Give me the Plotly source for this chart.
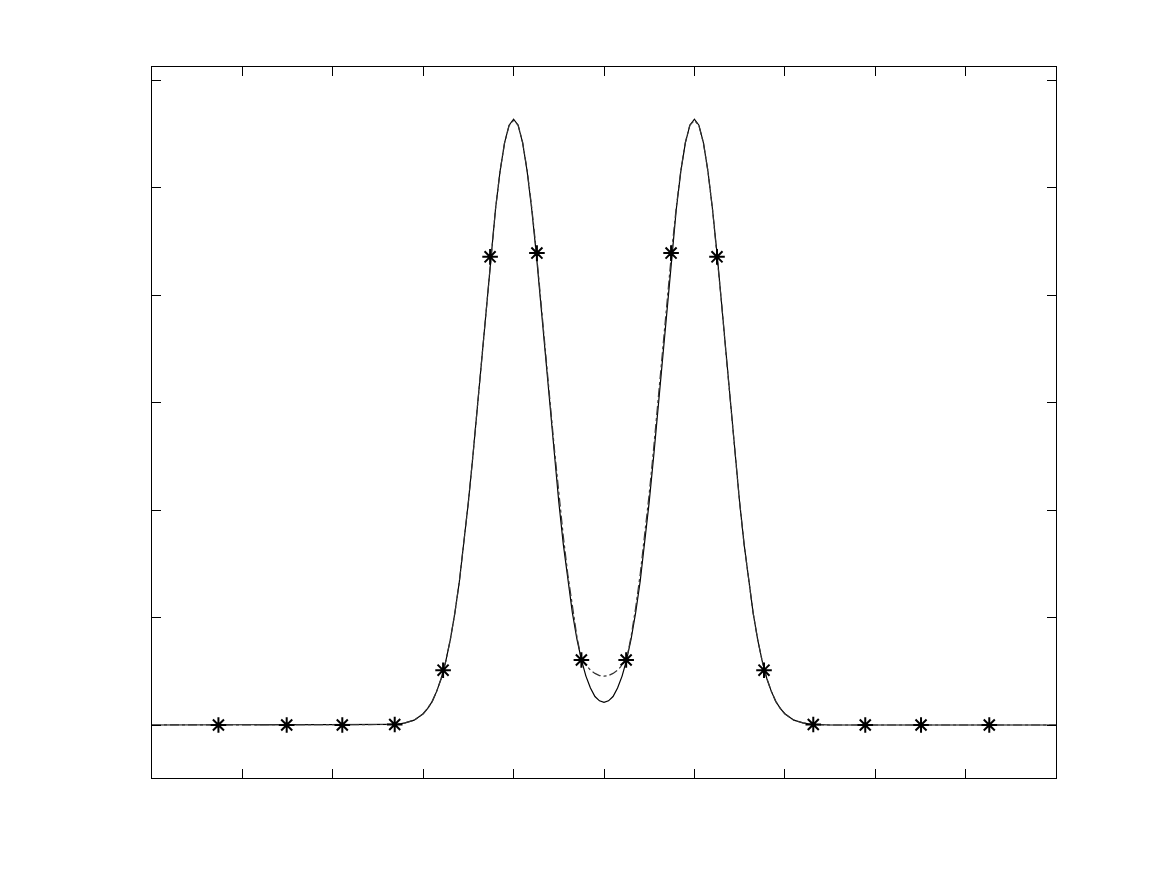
"""Two-peak curve with interpolant and sample nodes"""
import plotly.graph_objects as go

# Curve abscissae: coarse tails, 0.05 steps over the peaks
x_curve = [-5.0, -4.0, -3.0, -2.5, -2.3, -2.2, -2.1,
           -2.0, -1.95, -1.9, -1.85, -1.8, -1.75, -1.7, -1.65, -1.6, -1.55,
           -1.5, -1.45, -1.4, -1.35, -1.3, -1.25, -1.2, -1.15, -1.1, -1.05,
           -1.0, -0.95, -0.9, -0.85, -0.8, -0.75, -0.7, -0.65, -0.6, -0.55,
           -0.5, -0.45, -0.4, -0.35, -0.3, -0.25, -0.2, -0.15, -0.1, -0.05,
           0.0,
           0.05, 0.1, 0.15, 0.2, 0.25, 0.3, 0.35, 0.4, 0.45, 0.5,
           0.55, 0.6, 0.65, 0.7, 0.75, 0.8, 0.85, 0.9, 0.95, 1.0,
           1.05, 1.1, 1.15, 1.2, 1.25, 1.3, 1.35, 1.4, 1.45, 1.5,
           1.55, 1.6, 1.65, 1.7, 1.75, 1.8, 1.85, 1.9, 1.95, 2.0,
           2.1, 2.2, 2.3, 2.5, 3.0, 4.0, 5.0]

# Exact function (solid)
y_exact = [0.0, 0.0, 0.0, 0.0, 0.001, 0.004, 0.009,
           0.021, 0.031, 0.044, 0.063, 0.087, 0.119, 0.159, 0.208, 0.267, 0.336,
           0.415, 0.501, 0.594, 0.690, 0.786, 0.878, 0.960, 1.030, 1.083, 1.116,
           1.127, 1.116, 1.083, 1.030, 0.960, 0.878, 0.786, 0.690, 0.594, 0.501,
           0.415, 0.336, 0.267, 0.209, 0.160, 0.121, 0.091, 0.069, 0.053, 0.045,
           0.042,
           0.045, 0.053, 0.069, 0.091, 0.121, 0.160, 0.209, 0.267, 0.336, 0.415,
           0.501, 0.594, 0.690, 0.786, 0.878, 0.960, 1.030, 1.083, 1.116, 1.127,
           1.116, 1.083, 1.030, 0.960, 0.878, 0.786, 0.690, 0.594, 0.501, 0.415,
           0.336, 0.267, 0.208, 0.159, 0.119, 0.087, 0.063, 0.044, 0.031, 0.021,
           0.009, 0.004, 0.001, 0.0, 0.0, 0.0, 0.0]

# Interpolant (dash-dot)
y_interp = [0.0, 0.0, 0.0, 0.0, 0.001, 0.004, 0.009,
            0.021, 0.031, 0.044, 0.063, 0.087, 0.119, 0.159, 0.208, 0.267, 0.336,
            0.415, 0.501, 0.594, 0.690, 0.786, 0.878, 0.960, 1.030, 1.083, 1.115,
            1.125, 1.116, 1.084, 1.032, 0.964, 0.884, 0.796, 0.703, 0.608, 0.516,
            0.430, 0.351, 0.280, 0.218, 0.165, 0.122, 0.111, 0.102, 0.096, 0.092,
            0.091,
            0.092, 0.096, 0.102, 0.111, 0.122, 0.165, 0.218, 0.280, 0.351, 0.430,
            0.516, 0.608, 0.703, 0.796, 0.884, 0.964, 1.032, 1.084, 1.116, 1.125,
            1.115, 1.083, 1.030, 0.960, 0.878, 0.786, 0.690, 0.594, 0.501, 0.415,
            0.336, 0.267, 0.208, 0.159, 0.119, 0.087, 0.063, 0.044, 0.031, 0.021,
            0.009, 0.004, 0.001, 0.0, 0.0, 0.0, 0.0]

# Sample nodes (stars)
x_nodes = [-4.265, -3.51, -2.895, -2.315, -1.78, -1.26, -0.742, -0.25,
           0.245, 0.742, 1.25, 1.77, 2.315, 2.89, 3.507, 4.262]
y_nodes = [0.0, 0.0, 0.0, 0.001, 0.102, 0.871, 0.878, 0.121,
           0.121, 0.878, 0.871, 0.102, 0.001, 0.0, 0.0, 0.0]

x_ticks = [-5, -4, -3, -2, -1, 0, 1, 2, 3, 4, 5]
y_ticks = [0, 0.2, 0.4, 0.6, 0.8, 1.0, 1.2]

fig = go.Figure()

fig.add_trace(go.Scatter(
    x=x_curve, y=y_exact, mode='lines',
    line=dict(color='black', width=1.2),
    showlegend=False
))

fig.add_trace(go.Scatter(
    x=x_curve, y=y_interp, mode='lines',
    line=dict(color='#333333', width=1.2, dash='dashdot'),
    showlegend=False
))

fig.add_trace(go.Scatter(
    x=x_nodes, y=y_nodes, mode='markers',
    marker=dict(symbol='asterisk-open', size=13, color='black',
                line=dict(color='black', width=2)),
    showlegend=False
))

axis_common = dict(
    showline=True, linecolor='black', linewidth=1, mirror='ticks',
    ticks='inside', ticklen=9, tickcolor='black', tickwidth=1,
    showgrid=False, zeroline=False, showticklabels=False
)

# page body adds an 8px offset, so margins are shifted to compensate
fig.update_layout(
    width=1167, height=875,
    margin=dict(l=144, r=119, t=59, b=105),
    paper_bgcolor='white', plot_bgcolor='white',
    xaxis=dict(range=[-5, 5], tickvals=x_ticks, **axis_common),
    yaxis=dict(range=[-0.0986, 1.2242], tickvals=y_ticks, **axis_common),
)

fig.write_html("out.html")
